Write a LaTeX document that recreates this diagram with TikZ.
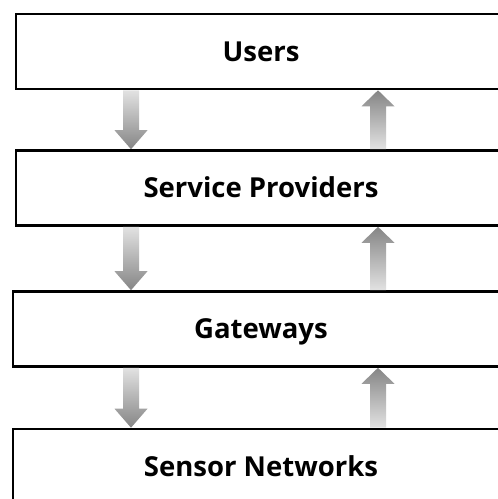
\documentclass[tikz,border=0pt]{standalone}
\usepackage{fontspec}
\setmainfont{Open Sans}
\usetikzlibrary{calc}
\definecolor{arlt}{HTML}{E2E2E2}
\definecolor{ardk}{HTML}{858585}
\tikzset{
  layerbox/.style={draw=black, line width=2.6pt, fill=white, minimum width=490pt,
    minimum height=75pt, inner sep=0pt, font=\fontsize{27.5}{30}\selectfont\bfseries},
}
\newcommand\dnarrow[3]{%
  \shade[top color=arlt, bottom color=ardk] let \p1=(#2.south), \p2=(#3.north) in
   (#1-8,\y1) -- (#1+8,\y1) -- (#1+8,\y2+19) -- (#1+16.5,\y2+19) -- (#1,\y2)
   -- (#1-16.5,\y2+19) -- (#1-8,\y2+19) -- cycle;}
\newcommand\uparr[3]{%
  \shade[top color=ardk, bottom color=arlt] let \p1=(#2.north), \p2=(#3.south) in
   (#1-8,\y1) -- (#1+8,\y1) -- (#1+8,\y2-16) -- (#1+16.5,\y2-16) -- (#1,\y2)
   -- (#1-16.5,\y2-16) -- (#1-8,\y2-16) -- cycle;}
\begin{document}
\begin{tikzpicture}[x=1pt,y=1pt]
\useasboundingbox (0,-499) rectangle (498,0);
\fill[white] (0,-499) rectangle (498,0);
\clip (0,-499) rectangle (498,0);
\node[layerbox, text depth=0pt, text height=0pt, align=center] (users) at (261,-51.5) {\raisebox{-0.36em}{Users}};
\node[layerbox, text depth=0pt, text height=0pt] (sp) at (261,-188) {\raisebox{-0.36em}{Service Providers}};
\node[layerbox, text depth=0pt, text height=0pt, minimum width=496pt] (gw) at (261,-329) {\raisebox{-0.36em}{Gateways}};
\node[layerbox, text depth=0pt, text height=0pt, minimum width=496pt] (sn) at (261,-466.5) {\raisebox{-0.36em}{Sensor Networks}};
\dnarrow{131}{users}{sp}
\uparr{378}{sp}{users}
\dnarrow{131}{sp}{gw}
\uparr{378}{gw}{sp}
\dnarrow{131}{gw}{sn}
\uparr{378}{sn}{gw}
\end{tikzpicture}
\end{document}
